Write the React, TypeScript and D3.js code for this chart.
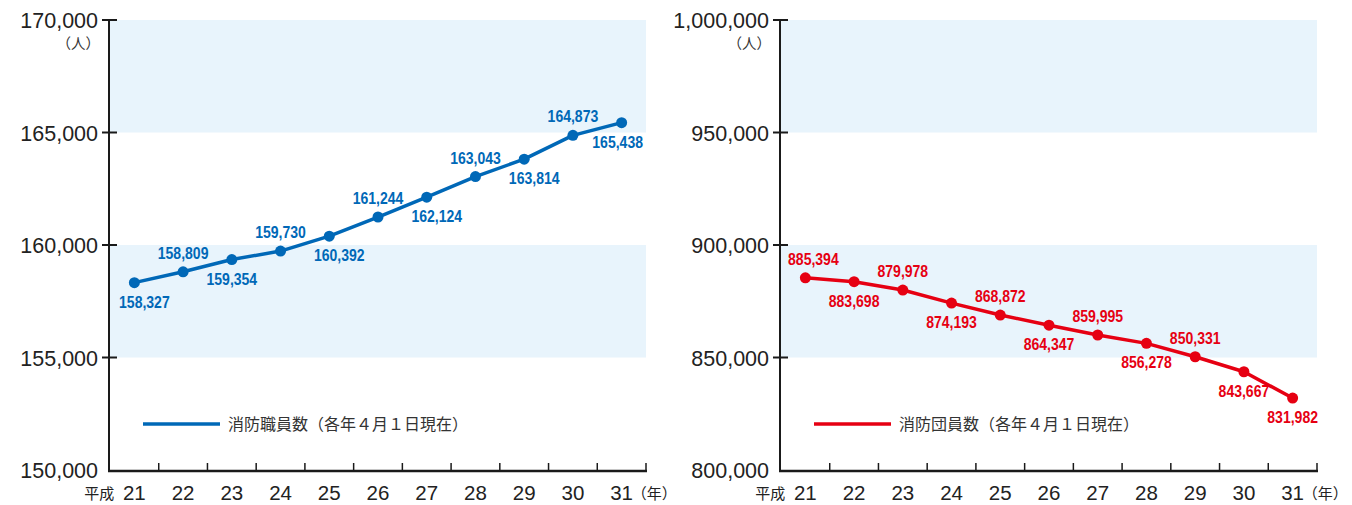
import React from "react";
import * as d3 from "d3";

const years = ["21", "22", "23", "24", "25", "26", "27", "28", "29", "30", "31"];
const staffValues = [158327, 158809, 159354, 159730, 160392, 161244, 162124, 163043, 163814, 164873, 165438];
const corpsValues = [885394, 883698, 879978, 874193, 868872, 864347, 859995, 856278, 850331, 843667, 831982];
const staffTicks = [150000, 155000, 160000, 165000, 170000];
const corpsTicks = [800000, 850000, 900000, 950000, 1000000];
// label placement: a = above, b = below, br = below right, bl = below left, ar = above right
const staffPlacement = ["br", "a", "b", "a", "br", "a", "br", "a", "br", "a", "bl"];
const corpsPlacement = ["ar", "b", "a", "b", "a", "b", "a", "b", "a", "b", "b"];
const staffLegend = "消防職員数（各年４月１日現在）";
const corpsLegend = "消防団員数（各年４月１日現在）";

const W = 1352;
const H = 505;
const TOP = 20;
const BOTTOM = 470;
const AXIS_COLOR = "#1a1a1a";
const BAND_COLOR = "#e8f4fc";
const fmt = d3.format(",");

type PanelProps = {
  left: number;
  right: number;
  values: number[];
  ticks: number[];
  placement: string[];
  color: string;
  legend: string;
};

function Panel({ left, right, values, ticks, placement, color, legend }: PanelProps) {
  const x = d3.scaleBand<string>().domain(years).range([left, right]).padding(0);
  const y = d3
    .scaleLinear()
    .domain([ticks[0], ticks[ticks.length - 1]])
    .range([BOTTOM, TOP]);
  const cx = (i: number) => (x(years[i]) as number) + x.bandwidth() / 2;
  const line = d3
    .line<number>()
    .x((_, i) => cx(i))
    .y((d) => y(d));
  const shaded: [number, number][] = [];
  for (let i = 1; i < ticks.length - 1; i += 2) shaded.push([ticks[i], ticks[i + 1]]);
  const labelFont = "'Liberation Sans', Arial, sans-serif";
  const labelPos = (p: string) => {
    let dx = 0;
    let dy = 0;
    if (p.startsWith("a")) dy = -19;
    else dy = 19;
    if (p.endsWith("r")) dx = p.startsWith("a") ? 8 : 10;
    if (p.endsWith("l")) dx = -4;
    return { dx, dy };
  };
  const boundaries = years.slice(1).map((yr) => x(yr) as number).concat([right]);
  const cjk = "'Noto Sans CJK JP', sans-serif";
  return (
    <g>
      {shaded.map(([a, b], i) => (
        <rect key={i} x={left} y={y(b)} width={right - left} height={y(a) - y(b)} fill={BAND_COLOR} />
      ))}
      {/* y axis */}
      <line x1={left - 1} x2={left - 1} y1={TOP} y2={BOTTOM + 1} stroke={AXIS_COLOR} strokeWidth={2} />
      {ticks.map((t, i) => (
        <g key={t}>
          {i > 0 && <line x1={left - 8} x2={left + 7} y1={y(t)} y2={y(t)} stroke={AXIS_COLOR} strokeWidth={2} />}
          <text
            x={left - 12}
            y={y(t) + 8}
            textAnchor="end"
            fontSize={21.5}
            fontFamily="'Liberation Sans', Arial, sans-serif"
            fill="#222"
          >
            {fmt(t)}
          </text>
        </g>
      ))}
      <text x={left - 10} y={y(ticks[ticks.length - 1]) + 29} textAnchor="end" fontSize={14.5} fontFamily={cjk} fill="#333">
        （人）
      </text>
      {/* x axis */}
      <line x1={left - 2} x2={right + 1} y1={BOTTOM + 1} y2={BOTTOM + 1} stroke={AXIS_COLOR} strokeWidth={2.5} />
      {boundaries.map((bx, i) => (
        <line key={i} x1={bx} x2={bx} y1={BOTTOM - 7} y2={BOTTOM} stroke={AXIS_COLOR} strokeWidth={1.5} />
      ))}
      {years.map((yr, i) => (
        <text
          key={yr}
          x={cx(i)}
          y={BOTTOM + 30}
          textAnchor="middle"
          fontSize={20.5}
          fontFamily="'Liberation Sans', Arial, sans-serif"
          fill="#222"
        >
          {yr}
        </text>
      ))}
      <text x={cx(0) - 20} y={BOTTOM + 29} textAnchor="end" fontSize={15} fontFamily={cjk} fill="#222">
        平成
      </text>
      <text x={cx(years.length - 1) + 10} y={BOTTOM + 29} textAnchor="start" fontSize={15} fontFamily={cjk} fill="#222">
        （年）
      </text>
      {/* series */}
      <path d={line(values) as string} fill="none" stroke={color} strokeWidth={3.5} strokeLinejoin="round" />
      {values.map((v, i) => (
        <circle key={i} cx={cx(i)} cy={y(v)} r={5.5} fill={color} />
      ))}
      {values.map((v, i) => {
        const { dx, dy } = labelPos(placement[i]);
        const tx = cx(i) + dx;
        const ty = y(v) + dy + 6;
        return (
          <text
            key={"l" + i}
            transform={`translate(${tx},${ty}) scale(0.85,1)`}
            textAnchor="middle"
            fontSize={16.5}
            fontWeight="bold"
            fontFamily={labelFont}
            fill={color}
          >
            {fmt(v)}
          </text>
        );
      })}
      {/* legend */}
      <line x1={left + 33} x2={left + 110} y1={424} y2={424} stroke={color} strokeWidth={3.5} />
      <text x={left + 118} y={429.5} fontSize={16} fontFamily={cjk} fill="#333">
        {legend}
      </text>
    </g>
  );
}

export default function App() {
  return (
    <svg
      width={W}
      height={H}
      viewBox={`0 0 ${W} ${H}`}
      style={{ position: "absolute", left: 0, top: 0, display: "block", background: "#fff" }}
    >
      <rect x={0} y={0} width={W} height={H} fill="#fff" />
      <Panel left={110} right={646} values={staffValues} ticks={staffTicks} placement={staffPlacement} color="#0068b7" legend={staffLegend} />
      <Panel left={781} right={1317} values={corpsValues} ticks={corpsTicks} placement={corpsPlacement} color="#e60012" legend={corpsLegend} />
    </svg>
  );
}
